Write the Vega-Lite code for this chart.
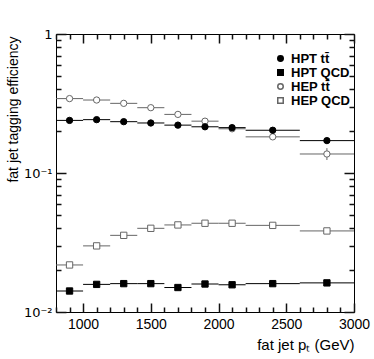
{
  "$schema": "https://vega.github.io/schema/vega-lite/v6.json",
  "width": 298,
  "height": 278,
  "autosize": {"type": "none"},
  "padding": {"left": 56, "top": 34, "right": 20, "bottom": 47},
  "background": "white",
  "config": {
    "font": "Liberation Sans",
    "view": {"stroke": "black", "strokeWidth": 1},
    "axis": {"grid": false, "domain": false, "ticks": true, "tickWidth": 1.5, "tickColor": "#111111", "tickOpacity": 1, "zindex": 1, "labelColor": "black", "titleColor": "black", "labelFont": "Liberation Sans", "titleFont": "Liberation Sans", "labelFontSize": 14, "titleFontSize": 14, "titleFontWeight": "normal"}
  },
  "data": {"values": [
    {"series": "HEP tt̄", "x": 900, "xlo": 800, "xhi": 1000, "y": 0.343, "ylo": 0.338, "yhi": 0.348},
    {"series": "HEP tt̄", "x": 1100, "xlo": 1000, "xhi": 1200, "y": 0.335, "ylo": 0.330, "yhi": 0.340},
    {"series": "HEP tt̄", "x": 1300, "xlo": 1200, "xhi": 1400, "y": 0.317, "ylo": 0.312, "yhi": 0.322},
    {"series": "HEP tt̄", "x": 1500, "xlo": 1400, "xhi": 1600, "y": 0.295, "ylo": 0.290, "yhi": 0.300},
    {"series": "HEP tt̄", "x": 1700, "xlo": 1600, "xhi": 1800, "y": 0.264, "ylo": 0.259, "yhi": 0.269},
    {"series": "HEP tt̄", "x": 1900, "xlo": 1800, "xhi": 2000, "y": 0.236, "ylo": 0.231, "yhi": 0.241},
    {"series": "HEP tt̄", "x": 2100, "xlo": 2000, "xhi": 2200, "y": 0.208, "ylo": 0.203, "yhi": 0.213},
    {"series": "HEP tt̄", "x": 2400, "xlo": 2200, "xhi": 2600, "y": 0.182, "ylo": 0.176, "yhi": 0.188},
    {"series": "HEP tt̄", "x": 2800, "xlo": 2600, "xhi": 3000, "y": 0.137, "ylo": 0.124, "yhi": 0.151},
    {"series": "HEP QCD", "x": 900, "xlo": 800, "xhi": 1000, "y": 0.0218, "ylo": 0.0214, "yhi": 0.0222},
    {"series": "HEP QCD", "x": 1100, "xlo": 1000, "xhi": 1200, "y": 0.0299, "ylo": 0.0295, "yhi": 0.0303},
    {"series": "HEP QCD", "x": 1300, "xlo": 1200, "xhi": 1400, "y": 0.0356, "ylo": 0.0352, "yhi": 0.0360},
    {"series": "HEP QCD", "x": 1500, "xlo": 1400, "xhi": 1600, "y": 0.0400, "ylo": 0.0396, "yhi": 0.0404},
    {"series": "HEP QCD", "x": 1700, "xlo": 1600, "xhi": 1800, "y": 0.0423, "ylo": 0.0419, "yhi": 0.0427},
    {"series": "HEP QCD", "x": 1900, "xlo": 1800, "xhi": 2000, "y": 0.0435, "ylo": 0.0431, "yhi": 0.0439},
    {"series": "HEP QCD", "x": 2100, "xlo": 2000, "xhi": 2200, "y": 0.0435, "ylo": 0.0431, "yhi": 0.0439},
    {"series": "HEP QCD", "x": 2400, "xlo": 2200, "xhi": 2600, "y": 0.0420, "ylo": 0.0416, "yhi": 0.0424},
    {"series": "HEP QCD", "x": 2800, "xlo": 2600, "xhi": 3000, "y": 0.0383, "ylo": 0.0379, "yhi": 0.0387},
    {"series": "HPT tt̄", "x": 900, "xlo": 800, "xhi": 1000, "y": 0.239, "ylo": 0.235, "yhi": 0.243},
    {"series": "HPT tt̄", "x": 1100, "xlo": 1000, "xhi": 1200, "y": 0.242, "ylo": 0.238, "yhi": 0.246},
    {"series": "HPT tt̄", "x": 1300, "xlo": 1200, "xhi": 1400, "y": 0.234, "ylo": 0.230, "yhi": 0.238},
    {"series": "HPT tt̄", "x": 1500, "xlo": 1400, "xhi": 1600, "y": 0.229, "ylo": 0.225, "yhi": 0.233},
    {"series": "HPT tt̄", "x": 1700, "xlo": 1600, "xhi": 1800, "y": 0.221, "ylo": 0.217, "yhi": 0.225},
    {"series": "HPT tt̄", "x": 1900, "xlo": 1800, "xhi": 2000, "y": 0.215, "ylo": 0.211, "yhi": 0.219},
    {"series": "HPT tt̄", "x": 2100, "xlo": 2000, "xhi": 2200, "y": 0.212, "ylo": 0.208, "yhi": 0.216},
    {"series": "HPT tt̄", "x": 2400, "xlo": 2200, "xhi": 2600, "y": 0.203, "ylo": 0.198, "yhi": 0.208},
    {"series": "HPT tt̄", "x": 2800, "xlo": 2600, "xhi": 3000, "y": 0.171, "ylo": 0.165, "yhi": 0.177},
    {"series": "HPT QCD", "x": 900, "xlo": 800, "xhi": 1000, "y": 0.01416, "ylo": 0.0139, "yhi": 0.0144},
    {"series": "HPT QCD", "x": 1100, "xlo": 1000, "xhi": 1200, "y": 0.0158, "ylo": 0.0156, "yhi": 0.0160},
    {"series": "HPT QCD", "x": 1300, "xlo": 1200, "xhi": 1400, "y": 0.0160, "ylo": 0.0158, "yhi": 0.0162},
    {"series": "HPT QCD", "x": 1500, "xlo": 1400, "xhi": 1600, "y": 0.0160, "ylo": 0.0158, "yhi": 0.0162},
    {"series": "HPT QCD", "x": 1700, "xlo": 1600, "xhi": 1800, "y": 0.0150, "ylo": 0.0148, "yhi": 0.0152},
    {"series": "HPT QCD", "x": 1900, "xlo": 1800, "xhi": 2000, "y": 0.0159, "ylo": 0.0157, "yhi": 0.0161},
    {"series": "HPT QCD", "x": 2100, "xlo": 2000, "xhi": 2200, "y": 0.0157, "ylo": 0.0155, "yhi": 0.0159},
    {"series": "HPT QCD", "x": 2400, "xlo": 2200, "xhi": 2600, "y": 0.0160, "ylo": 0.0158, "yhi": 0.0162},
    {"series": "HPT QCD", "x": 2800, "xlo": 2600, "xhi": 3000, "y": 0.0162, "ylo": 0.0160, "yhi": 0.0164}
  ]},
  "resolve": {"axis": {"x": "independent", "y": "independent"}},
  "layer": [
    {
      "mark": {"type": "rule", "strokeWidth": 1},
      "encoding": {
        "x": {"field": "xlo", "type": "quantitative", "scale": {"domain": [800, 3000], "nice": false, "zero": false},
              "axis": {"orient": "bottom", "values": [1000, 1500, 2000, 2500, 3000], "ticks": false, "labelPadding": 5, "labelFlush": false, "format": "d",
                       "title": "fat jet pₜ (GeV)", "titleFontSize": 15, "titleAnchor": "end", "titleAlign": "right", "titleX": 298, "titleY": 37, "titleBaseline": "alphabetic"}},
        "x2": {"field": "xhi"},
        "y": {"field": "y", "type": "quantitative", "scale": {"type": "log", "domain": [0.01, 1], "nice": false},
              "axis": {"orient": "left", "values": [0.01, 0.1, 1], "ticks": false, "labelPadding": 4, "labelFlush": false, "labelFont": "DejaVu Sans", "labelFontSize": 13,
                       "labelExpr": "datum.value >= 1 ? '1' : (datum.value >= 0.1 ? '10⁻¹' : '10⁻²')",
                       "title": "fat jet tagging efficiency", "titleAngle": -90, "titleAlign": "right", "titleBaseline": "middle", "titleX": -43, "titleY": 2}},
        "stroke": {"field": "series", "type": "nominal"}
      }
    },
    {
      "mark": {"type": "rule", "strokeWidth": 1},
      "encoding": {
        "x": {"field": "x", "type": "quantitative",
              "axis": {"orient": "top", "values": [1000, 1500, 2000, 2500, 3000], "offset": -278, "tickSize": 9, "labels": false, "title": null}},
        "y": {"field": "ylo", "type": "quantitative",
              "axis": {"orient": "right", "values": [0.01, 0.1, 1], "offset": -298, "tickSize": 10, "labels": false, "title": null}},
        "y2": {"field": "yhi"},
        "stroke": {"field": "series", "type": "nominal"}
      }
    },
    {
      "mark": {"type": "point", "opacity": 1, "strokeWidth": 1},
      "encoding": {
        "x": {"field": "x", "type": "quantitative",
              "axis": {"orient": "top", "values": [1000, 1500, 2000, 2500, 3000], "offset": -9, "tickSize": 9, "labels": false, "title": null}},
        "y": {"field": "y", "type": "quantitative",
              "axis": {"orient": "right", "values": [0.01, 0.1, 1], "offset": -10, "tickSize": 10, "labels": false, "title": null}},
        "shape": {"field": "series", "type": "nominal",
                  "scale": {"domain": ["HPT tt̄", "HPT QCD", "HEP tt̄", "HEP QCD"], "range": ["circle", "square", "circle", "square"]},
                  "legend": {"title": null, "orient": "none", "legendX": 218, "legendY": 18, "labelFontSize": 13, "labelFontWeight": "bold", "labelFont": "Liberation Sans", "labelColor": "black", "symbolSize": 30, "rowPadding": 0, "labelOffset": 4}},
        "fill": {"field": "series", "type": "nominal",
                 "scale": {"domain": ["HPT tt̄", "HPT QCD", "HEP tt̄", "HEP QCD"], "range": ["black", "black", "white", "white"]},
                 "legend": {"title": null, "orient": "none", "legendX": 218, "legendY": 18, "labelFontSize": 13, "labelFontWeight": "bold", "labelFont": "Liberation Sans", "labelColor": "black", "symbolSize": 30, "rowPadding": 0, "labelOffset": 4}},
        "stroke": {"field": "series", "type": "nominal",
                   "scale": {"domain": ["HPT tt̄", "HPT QCD", "HEP tt̄", "HEP QCD"], "range": ["black", "black", "#666666", "#666666"]},
                   "legend": {"title": null, "orient": "none", "legendX": 218, "legendY": 18, "labelFontSize": 13, "labelFontWeight": "bold", "labelFont": "Liberation Sans", "labelColor": "black", "symbolSize": 30, "rowPadding": 0, "labelOffset": 4}},
        "size": {"value": 40}
      }
    },
    {
      "mark": {"type": "point", "opacity": 0},
      "encoding": {
        "x": {"field": "x", "type": "quantitative",
              "axis": {"orient": "top", "values": [800, 900, 1100, 1200, 1300, 1400, 1600, 1700, 1800, 1900, 2100, 2200, 2300, 2400, 2600, 2700, 2800, 2900], "offset": -5, "tickSize": 5, "labels": false, "title": null}},
        "y": {"field": "y", "type": "quantitative",
              "axis": {"orient": "right", "values": [0.02, 0.03, 0.04, 0.05, 0.06, 0.07, 0.08, 0.09, 0.2, 0.3, 0.4, 0.5, 0.6, 0.7, 0.8, 0.9], "offset": -5, "tickSize": 5, "labels": false, "title": null}}
      }
    },
    {
      "mark": {"type": "point", "opacity": 0},
      "encoding": {
        "x": {"field": "x", "type": "quantitative",
              "axis": {"orient": "top", "values": [800, 900, 1100, 1200, 1300, 1400, 1600, 1700, 1800, 1900, 2100, 2200, 2300, 2400, 2600, 2700, 2800, 2900], "offset": -278, "tickSize": 5, "labels": false, "title": null}},
        "y": {"field": "y", "type": "quantitative",
              "axis": {"orient": "right", "values": [0.02, 0.03, 0.04, 0.05, 0.06, 0.07, 0.08, 0.09, 0.2, 0.3, 0.4, 0.5, 0.6, 0.7, 0.8, 0.9], "offset": -298, "tickSize": 5, "labels": false, "title": null}}
      }
    }
  ]
}
